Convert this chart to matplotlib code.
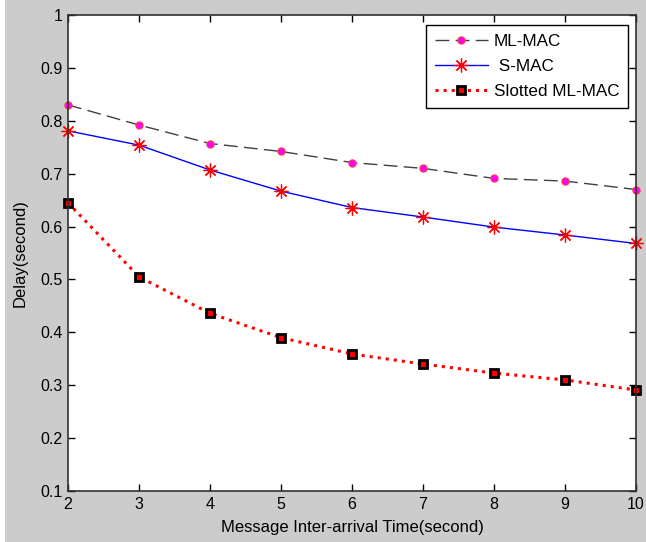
import matplotlib
matplotlib.use("Agg")
import matplotlib.pyplot as plt
from matplotlib.patches import Rectangle

# Data
inter_arrival = [2, 3, 4, 5, 6, 7, 8, 9, 10]
ml_mac = [0.830, 0.792, 0.757, 0.742, 0.721, 0.710, 0.691, 0.686, 0.670]
s_mac = [0.781, 0.754, 0.707, 0.667, 0.636, 0.618, 0.599, 0.584, 0.568]
slotted_ml_mac = [0.645, 0.505, 0.436, 0.390, 0.359, 0.340, 0.323, 0.310, 0.291]

x_ticks = [2, 3, 4, 5, 6, 7, 8, 9, 10]
y_ticks = [0.1, 0.2, 0.3, 0.4, 0.5, 0.6, 0.7, 0.8, 0.9, 1.0]
y_ticklabels = ['0.1', '0.2', '0.3', '0.4', '0.5', '0.6', '0.7', '0.8', '0.9', '1']

plt.rcParams['font.family'] = ['Liberation Sans', 'DejaVu Sans']

fig = plt.figure(figsize=(6.46, 5.42), dpi=100, facecolor='#cccccc')
# thin white strip on the left edge, like the screenshot
fig.patches.append(Rectangle((0, 0), 5 / 646, 1, transform=fig.transFigure,
                             facecolor='white', edgecolor='none', zorder=-1))

ax = fig.add_axes([68 / 646, 51 / 542, 568 / 646, 476 / 542])
ax.set_facecolor('white')

ax.plot(inter_arrival, ml_mac, color='#404040', linewidth=1.0,
        dashes=(10, 4.5), marker='o', markersize=5,
        markerfacecolor='#ff00ff', markeredgecolor='#ff3060',
        markeredgewidth=1.0, label='ML-MAC', clip_on=False)
ax.plot(inter_arrival, s_mac, color='#0000ff', linewidth=1.0,
        marker=(8, 2, 0), markersize=10, markeredgecolor='#ff0000',
        markerfacecolor='#ff0000', markeredgewidth=0.9,
        label=' S-MAC', clip_on=False)
ax.plot(inter_arrival, slotted_ml_mac, color='#ff0000', linewidth=2.2,
        linestyle=':', marker='s', markersize=6,
        markerfacecolor='#ff0000', markeredgecolor='black',
        markeredgewidth=2.0, label='Slotted ML-MAC', clip_on=False)

ax.set_xlim(2, 10)
ax.set_ylim(0.1, 1.0)
ax.set_xticks(x_ticks)
ax.set_yticks(y_ticks)
ax.set_yticklabels(y_ticklabels)
ax.tick_params(direction='in', length=5, width=1, top=True, right=True,
               labelsize=11.5, colors='black', pad=4)
for sp in ax.spines.values():
    sp.set_color('#303030')
    sp.set_linewidth(1.2)

ax.set_xlabel('Message Inter-arrival Time(second)', fontsize=12, labelpad=6)
ax.set_ylabel('Delay(second)', fontsize=12, labelpad=9)

leg = ax.legend(loc='upper right', bbox_to_anchor=(628 / 646, 1 - 25 / 542),
                bbox_transform=fig.transFigure, borderaxespad=0,
                fontsize=12.3, handlelength=3.1, handletextpad=0.35,
                borderpad=0.5, labelspacing=0.6, frameon=True,
                fancybox=False, edgecolor='black', framealpha=1)
leg.get_frame().set_linewidth(1.0)

fig.savefig('out.png', dpi=100, facecolor=fig.get_facecolor())
